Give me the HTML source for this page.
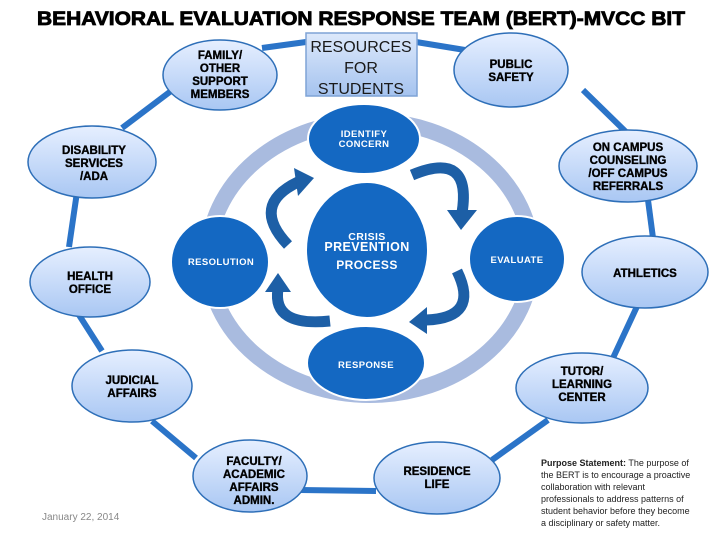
<!DOCTYPE html>
<html><head><meta charset="utf-8"><style>
html,body{margin:0;padding:0;background:#fff;}
svg{display:block}
.o{fill:url(#lg);stroke:#2e6fb8;stroke-width:1.5}
.ot{font-family:"Liberation Sans",sans-serif;font-weight:bold;font-size:11.5px;fill:#000;stroke:#000;stroke-width:0.35;text-anchor:middle}
.it{font-family:"Liberation Sans",sans-serif;font-weight:bold;font-size:9.5px;fill:#fff;text-anchor:middle;letter-spacing:0.4px}
.ln{stroke:#2b74c8;stroke-width:6;stroke-linecap:butt}
.ar{fill:none;stroke:#1d5fa6;stroke-width:11}
</style></head><body>
<svg width="720" height="540" viewBox="0 0 720 540" xmlns="http://www.w3.org/2000/svg">
<defs>
<linearGradient id="lg" x1="0" y1="0" x2="0" y2="1"><stop offset="0" stop-color="#e6efff"/><stop offset="1" stop-color="#a9c7f3"/></linearGradient>
<linearGradient id="bg" x1="0" y1="0" x2="0" y2="1"><stop offset="0" stop-color="#dde9fb"/><stop offset="1" stop-color="#a5c3ef"/></linearGradient>
</defs>
<text x="361" y="25" text-anchor="middle" font-family="Liberation Sans,sans-serif" font-weight="bold" font-size="19" textLength="648" lengthAdjust="spacingAndGlyphs" stroke="#000" stroke-width="0.8">BEHAVIORAL EVALUATION RESPONSE TEAM (BERT)-MVCC BIT</text>
<line class="ln" x1="262" y1="48" x2="306" y2="42"/>
<line class="ln" x1="416" y1="42" x2="465" y2="50"/>
<line class="ln" x1="583" y1="90" x2="626" y2="132"/>
<line class="ln" x1="648" y1="200" x2="653" y2="238"/>
<line class="ln" x1="640" y1="300" x2="613" y2="358"/>
<line class="ln" x1="548" y1="420" x2="492" y2="460"/>
<line class="ln" x1="376" y1="491" x2="300" y2="490"/>
<line class="ln" x1="196" y1="458" x2="152" y2="421"/>
<line class="ln" x1="102" y1="351" x2="79" y2="315"/>
<line class="ln" x1="69" y1="247" x2="77" y2="192"/>
<line class="ln" x1="122" y1="128" x2="175" y2="88"/>
<ellipse cx="370" cy="258" rx="162" ry="137" fill="none" stroke="#a9bbdf" stroke-width="16"/>
<ellipse class="o" cx="220" cy="75" rx="57" ry="35"/>
<text class="ot" x="220" y="59">FAMILY/</text><text class="ot" x="220" y="72">OTHER</text><text class="ot" x="220" y="85">SUPPORT</text><text class="ot" x="220" y="98">MEMBERS</text>
<rect x="306" y="33" width="111" height="63" fill="url(#bg)" stroke="#7fa3d6" stroke-width="1.5"/>
<g font-family="Liberation Sans,sans-serif" font-size="16" fill="#1a1a1a" text-anchor="middle"><text x="361" y="52">RESOURCES</text><text x="361" y="73">FOR</text><text x="361" y="94">STUDENTS</text></g>
<ellipse class="o" cx="511" cy="70" rx="57" ry="37"/>
<text class="ot" x="511" y="68">PUBLIC</text><text class="ot" x="511" y="81">SAFETY</text>
<ellipse class="o" cx="628" cy="166" rx="69" ry="36"/>
<text class="ot" x="628" y="151">ON CAMPUS</text><text class="ot" x="628" y="164">COUNSELING</text><text class="ot" x="628" y="177">/OFF CAMPUS</text><text class="ot" x="628" y="190">REFERRALS</text>
<ellipse class="o" cx="645" cy="272" rx="63" ry="36"/>
<text class="ot" x="645" y="277">ATHLETICS</text>
<ellipse class="o" cx="582" cy="388" rx="66" ry="35"/>
<text class="ot" x="582" y="375">TUTOR/</text><text class="ot" x="582" y="388">LEARNING</text><text class="ot" x="582" y="401">CENTER</text>
<ellipse class="o" cx="437" cy="478" rx="63" ry="36"/>
<text class="ot" x="437" y="475">RESIDENCE</text><text class="ot" x="437" y="488">LIFE</text>
<ellipse class="o" cx="250" cy="476" rx="57" ry="36"/>
<text class="ot" x="254" y="465">FACULTY/</text><text class="ot" x="254" y="478">ACADEMIC</text><text class="ot" x="254" y="491">AFFAIRS</text><text class="ot" x="254" y="504">ADMIN.</text>
<ellipse class="o" cx="132" cy="386" rx="60" ry="36"/>
<text class="ot" x="132" y="384">JUDICIAL</text><text class="ot" x="132" y="397">AFFAIRS</text>
<ellipse class="o" cx="90" cy="282" rx="60" ry="35"/>
<text class="ot" x="90" y="280">HEALTH</text><text class="ot" x="90" y="293">OFFICE</text>
<ellipse class="o" cx="92" cy="162" rx="64" ry="36"/>
<text class="ot" x="94" y="154">DISABILITY</text><text class="ot" x="94" y="167">SERVICES</text><text class="ot" x="94" y="180">/ADA</text>
<g fill="#1468c2" stroke="#fff" stroke-width="2">
<ellipse cx="364" cy="139" rx="56" ry="35"/>
<ellipse cx="367" cy="250" rx="61" ry="68"/>
<ellipse cx="220" cy="262" rx="49" ry="46"/>
<ellipse cx="517" cy="259" rx="48" ry="43"/>
<ellipse cx="366" cy="363" rx="59" ry="37"/>
</g>
<text class="it" x="364" y="137">IDENTIFY</text><text class="it" x="364" y="147">CONCERN</text>
<text class="it" x="367" y="240" style="font-size:10.5px">CRISIS</text>
<text class="it" x="367" y="251" style="font-size:12.5px">PREVENTION</text>
<text class="it" x="367" y="269" style="font-size:12px">PROCESS</text>
<text class="it" x="221" y="265">RESOLUTION</text>
<text class="it" x="517" y="263">EVALUATE</text>
<text class="it" x="366" y="368">RESPONSE</text>
<path class="ar" d="M288,245 Q250,205 298,182"/>
<polygon points="294,168 314,178 298,196" fill="#1d5fa6"/>
<path class="ar" d="M412,175 Q472,150 462,213"/>
<polygon points="447,210 477,210 461,230" fill="#1d5fa6"/>
<path class="ar" d="M457,271 Q480,318 426,320"/>
<polygon points="427,307 427,334 409,322" fill="#1d5fa6"/>
<path class="ar" d="M330,321 Q272,327 278,289"/>
<polygon points="265,292 291,292 278,273" fill="#1d5fa6"/>
<g font-family="Liberation Sans,sans-serif" font-size="9" fill="#222">
<text x="541" y="466"><tspan font-weight="bold">Purpose Statement:</tspan> The purpose of</text>
<text x="541" y="478">the BERT is to encourage a proactive</text>
<text x="541" y="490">collaboration with relevant</text>
<text x="541" y="502">professionals to address patterns of</text>
<text x="541" y="514">student behavior before they become</text>
<text x="541" y="526">a disciplinary or safety matter.</text>
</g>
<text x="42" y="520" font-family="Liberation Sans,sans-serif" font-size="10" fill="#888">January 22, 2014</text>
</svg>
</body></html>
